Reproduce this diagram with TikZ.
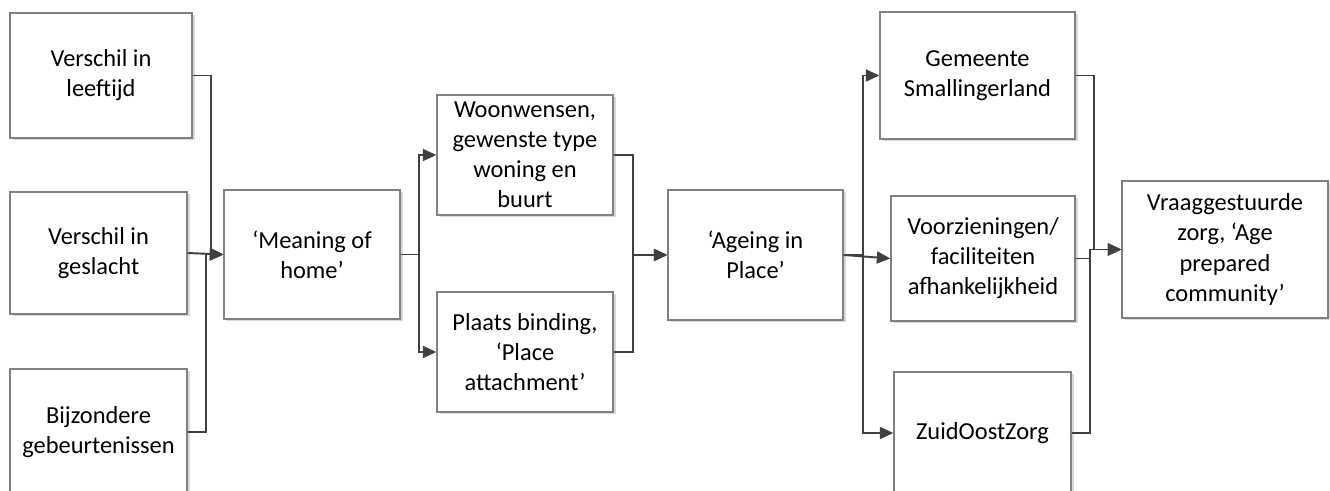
\documentclass[tikz,border=0pt]{standalone}
\usepackage{fontspec}
\setmainfont{Carlito}
\tikzset{
    box/.style={draw=black!50, line width=0.75pt, rectangle, fill=white, drop shadow={shadow xshift=0.05cm, shadow yshift=-0.05cm, fill=black!15, opacity=1}, font=\fontsize{13.9}{17.1}\selectfont, inner sep=0pt, on grid, align=center},
    link/.style={draw=black!75, line width=1.1pt, -{Triangle[length=0.27cm, width=0.24cm]}},
}
\usetikzlibrary{arrows.meta,shadows,positioning,calc}

\begin{document}
\begin{tikzpicture}
\useasboundingbox (0,0) rectangle (26.6,-9.82);

\node[box, minimum width=3.64cm, minimum height=2.5cm] (leeftijd) at (2.02,-1.51) {Verschil in\\leeftijd};
\node[box, minimum width=3.54cm, minimum height=2.44cm] (geslacht) at (1.97,-5.06) {Verschil in\\geslacht};
\node[box, minimum width=3.54cm, minimum height=2.52cm] (gebeurtenis) at (1.97,-8.64) {Bijzondere\\gebeurtenissen};

\node[box, minimum width=3.52cm, minimum height=2.58cm] (meaning) at (6.24,-5.09) {‘Meaning of\\home’};
\node[box, minimum width=3.52cm, minimum height=2.4cm] (woonwens) at (10.5,-3.1) {Woonwensen,\\gewenste type\\woning en\\buurt};
\node[box, minimum width=3.52cm, minimum height=2.4cm] (binding) at (10.5,-7.04) {Plaats binding,\\‘Place\\attachment’};
\node[box, minimum width=3.5cm, minimum height=2.6cm] (ageing) at (15.11,-5.1) {‘Ageing in\\Place’};

\node[box, minimum width=3.9cm, minimum height=2.54cm] (gemeente) at (19.55,-1.51) {Gemeente\\Smallingerland};
\node[box, minimum width=3.68cm, minimum height=2.5cm] (voorziening) at (19.66,-5.17) {Voorzieningen/\\faciliteiten\\afhankelijkheid};
\node[box, minimum width=3.54cm, minimum height=2.44cm] (zuidoost) at (19.65,-8.66) {ZuidOostZorg};
\node[box, minimum width=4.12cm, minimum height=2.74cm] (vraag) at (24.5,-4.99) {Vraaggestuurde\\zorg, ‘Age\\prepared\\community’};

\draw[link] (leeftijd.east) -- ++(0.36,0) |- (meaning.west);
\draw[link] (geslacht.east) -- (meaning.west);
\draw[link] (gebeurtenis.east) -- ++(0.36,0) |- (meaning.west);

\draw[link] (meaning.east) -- ++(0.36,0) |- (woonwens.west);
\draw[link] (meaning.east) -- ++(0.36,0) |- (binding.west);
\draw[link] (woonwens.east) -- ++(0.38,0) |- (ageing.west);
\draw[link] (binding.east) -- ++(0.38,0) |- (ageing.west);

\draw[link] (ageing.east) -- ++(0.38,0) |- (gemeente.west);
\draw[link] (ageing.east) -- (voorziening.west);
\draw[link] (ageing.east) -- ++(0.38,0) |- (zuidoost.west);

\draw[link] (gemeente.east) -- ++(0.36,0) |- (vraag.west);
\draw[link] (voorziening.east) -- ++(0.28,0) |- (vraag.west);
\draw[link] (zuidoost.east) -- ++(0.36,0) |- (vraag.west);

\end{tikzpicture}
\end{document}
